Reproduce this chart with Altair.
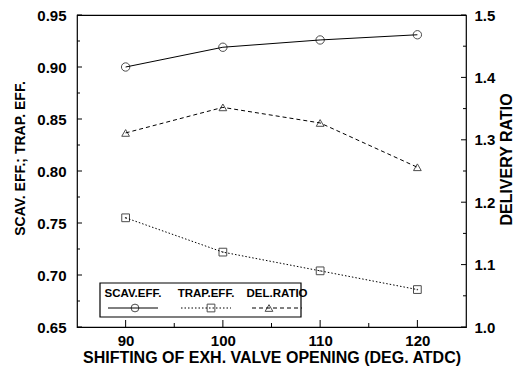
import altair as alt
import pandas as pd

# ---- data ----
shift = [90, 100, 110, 120]
scav_eff = [0.900, 0.919, 0.926, 0.931]
trap_eff = [0.755, 0.722, 0.704, 0.686]
del_ratio = [1.311, 1.352, 1.327, 1.256]

left_ticks_major = [0.65, 0.70, 0.75, 0.80, 0.85, 0.90, 0.95]
left_ticks_minor = [0.675, 0.725, 0.775, 0.825, 0.875, 0.925]
right_ticks_major = [1.0, 1.1, 1.2, 1.3, 1.4, 1.5]
right_ticks_minor = [1.05, 1.15, 1.25, 1.35, 1.45]
x_ticks_major = [90, 100, 110, 120]
x_ticks_minor = [95, 105, 115]

legend_labels = ["SCAV.EFF.", "TRAP.EFF.", "DEL.RATIO"]
legend_shapes = ["circle", "square", "triangle-up"]
legend_dash = [[1, 0], [1.5, 2], [4, 3]]

W, H = 389, 312
FONT = "Liberation Sans"

xscale = alt.Scale(domain=[85, 125], nice=False, zero=False)
lscale = alt.Scale(domain=[0.65, 0.95], nice=False, zero=False)
rscale = alt.Scale(domain=[1.0, 1.5], nice=False, zero=False)

xaxis = alt.Axis(values=x_ticks_major, format="d", ticks=False, domain=False, grid=False,
                 labelFontSize=15, labelFontWeight="bold", labelPadding=6,
                 title="SHIFTING OF EXH. VALVE OPENING (DEG. ATDC)",
                 titleFontSize=16, titleFontWeight="bold", titlePadding=1)
laxis = alt.Axis(values=left_ticks_major, format=".2f", ticks=False, domain=False, grid=False,
                 labelFontSize=15, labelFontWeight="bold", labelPadding=11,
                 title="SCAV. EFF.; TRAP. EFF.", titleFontSize=14, titleFontWeight="bold",
                 titlePadding=9, titleY=143)
raxis = alt.Axis(values=right_ticks_major, format=".1f", ticks=False, domain=False, grid=False,
                 orient="right", labelFontSize=15, labelFontWeight="bold", labelPadding=8,
                 title="DELIVERY RATIO", titleFontSize=16, titleFontWeight="bold",
                 titleAngle=270, titlePadding=20, titleY=144)


def X(field):
    return alt.X(field, type="quantitative", scale=xscale, axis=xaxis)


def YL(field):
    return alt.Y(field, type="quantitative", scale=lscale, axis=laxis)


def YR(field):
    return alt.Y(field, type="quantitative", scale=rscale, axis=raxis)


df = pd.DataFrame({"x": shift, "scav": scav_eff, "trap": trap_eff, "dr": del_ratio})

scav_line = alt.Chart(df).mark_line(color="black", strokeWidth=1).encode(x=X("x"), y=YL("scav"))
scav_pts = alt.Chart(df).mark_point(shape="circle", size=70, color="black", filled=False,
                                    strokeWidth=1).encode(x=X("x"), y=YL("scav"))
trap_line = alt.Chart(df).mark_line(color="black", strokeWidth=1, strokeDash=[1.5, 2]).encode(
    x=X("x"), y=YL("trap"))
trap_pts = alt.Chart(df).mark_point(shape="square", size=60, color="black", filled=False,
                                    strokeWidth=1).encode(x=X("x"), y=YL("trap"))
trap_dots = alt.Chart(df).mark_point(shape="square", size=2, color="black", filled=True).encode(
    x=X("x"), y=YL("trap"))

lt_major = alt.Chart(pd.DataFrame({"t": left_ticks_major})).mark_rule(color="black").encode(
    y=YL("t"), x=alt.value(0), x2=alt.value(5))
lt_minor = alt.Chart(pd.DataFrame({"t": left_ticks_minor})).mark_rule(color="black").encode(
    y=YL("t"), x=alt.value(0), x2=alt.value(3))
xt_major = alt.Chart(pd.DataFrame({"t": x_ticks_major})).mark_rule(color="black").encode(
    x=X("t"), y=alt.value(H), y2=alt.value(H - 7))
xt_minor = alt.Chart(pd.DataFrame({"t": x_ticks_minor})).mark_rule(color="black").encode(
    x=X("t"), y=alt.value(H), y2=alt.value(H - 4))

# legend (pixel space, scale=None)
leg = pd.DataFrame({
    "label": legend_labels,
    "shape": legend_shapes,
    "cx": [56, 129, 200],
    "mx": [58, 134, 192],
})
leg["x1"] = leg["cx"] - 25
leg["x2"] = leg["cx"] + 25
leg["ty"] = 279
leg["ly"] = 293
leg_box = alt.Chart(pd.DataFrame({"a": [23], "b": [224], "c": [268], "d": [302]})).mark_rect(
    fill="white", stroke="black", strokeWidth=1.2).encode(
    x=alt.X("a:Q", scale=None), x2="b:Q", y=alt.Y("c:Q", scale=None), y2="d:Q")
leg_text = alt.Chart(leg).mark_text(font=FONT, fontSize=11.5, fontWeight="bold", color="black",
                                    baseline="middle").encode(
    x=alt.X("cx:Q", scale=None), y=alt.Y("ty:Q", scale=None), text="label:N")
leg_lines = []
for i, row in leg.iterrows():
    leg_lines.append(
        alt.Chart(leg.iloc[[i]]).mark_rule(color="black", strokeWidth=1,
                                           strokeDash=legend_dash[i]).encode(
            x=alt.X("x1:Q", scale=None), x2="x2:Q", y=alt.Y("ly:Q", scale=None)))
leg_pts = alt.Chart(leg).mark_point(color="black", filled=False, size=60, strokeWidth=1).encode(
    x=alt.X("mx:Q", scale=None), y=alt.Y("ly:Q", scale=None),
    shape=alt.Shape("shape:N", scale=None))

left_group = alt.layer(scav_line, scav_pts, trap_line, trap_pts, trap_dots, lt_major, lt_minor,
                       xt_major, xt_minor, leg_box, leg_text, *leg_lines, leg_pts)

dr_line = alt.Chart(df).mark_line(color="black", strokeWidth=1, strokeDash=[4, 3]).encode(
    x=X("x"), y=YR("dr"))
dr_pts = alt.Chart(df).mark_point(shape="triangle-up", size=60, color="black", filled=False,
                                  strokeWidth=1).encode(x=X("x"), y=YR("dr"))
rt_major = alt.Chart(pd.DataFrame({"t": right_ticks_major})).mark_rule(color="black").encode(
    y=YR("t"), x=alt.value(W), x2=alt.value(W - 5))
rt_minor = alt.Chart(pd.DataFrame({"t": right_ticks_minor})).mark_rule(color="black").encode(
    y=YR("t"), x=alt.value(W), x2=alt.value(W - 3))

right_group = alt.layer(dr_line, dr_pts, rt_major, rt_minor)

chart = alt.layer(left_group, right_group).resolve_scale(y="independent").properties(
    width=W, height=H,
    autosize=alt.AutoSizeParams(type="none"),
    padding={"left": 69, "top": 7, "right": 50, "bottom": 39},
    background="white",
).configure_view(stroke="black", strokeWidth=1.2).configure_axis(
    labelFont=FONT, titleFont=FONT, labelColor="black", titleColor="black"
)

chart.save("out.html", embed_options={"renderer": "svg", "actions": False})
